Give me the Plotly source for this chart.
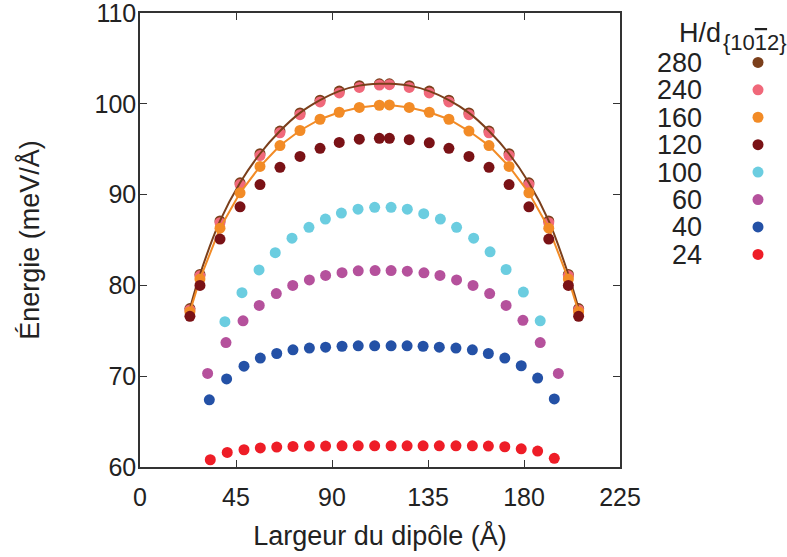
import plotly.graph_objects as go

# ---------------- data ----------------
series_names = ["280", "240", "160", "120", "100", "60", "40", "24"]

x_wide = [23.4, 28.1, 37.5, 46.9, 56.25, 65.6, 75.0, 84.4, 93.4, 102.8, 112.2,
          116.9, 126.2, 135.6, 144.8, 154.2, 163.6, 173.0, 182.3, 191.6, 200.8, 205.6]
y_280 = [77.45, 81.2, 87.1, 91.3, 94.5, 97.0, 99.0, 100.4, 101.4, 102.0, 102.2,
         102.2, 102.0, 101.4, 100.4, 99.0, 97.0, 94.5, 91.3, 87.1, 81.2, 77.45]
y_240 = [77.3, 81.05, 86.9, 91.1, 94.3, 96.8, 98.8, 100.2, 101.2, 101.8, 102.07,
         102.1, 101.8, 101.2, 100.2, 98.8, 96.8, 94.3, 91.1, 86.9, 81.05, 77.3]
y_160 = [77.1, 80.7, 86.3, 90.2, 93.1, 95.4, 97.06, 98.3, 99.07, 99.6, 99.84,
         99.88, 99.6, 99.07, 98.3, 97.0, 95.4, 93.1, 90.2, 86.3, 80.7, 77.1]
y_120 = [76.6, 80.0, 85.1, 88.65, 91.1, 93.0, 94.2, 95.1, 95.75, 96.1, 96.2,
         96.2, 96.05, 95.7, 95.1, 94.2, 93.0, 91.1, 88.65, 85.1, 80.0, 76.6]

x_100 = [39.8, 47.8, 55.8, 63.4, 71.25, 79.2, 86.9, 94.4, 102.2, 110.0,
         117.7, 125.3, 133.0, 140.8, 148.4, 156.4, 164.1, 171.6, 179.7, 187.6]
y_100 = [76.0, 79.2, 81.7, 83.6, 85.2, 86.4, 87.3, 87.96, 88.4, 88.6,
         88.6, 88.4, 87.9, 87.3, 86.4, 85.2, 83.7, 81.75, 79.26, 76.1]

x_60 = [31.7, 40.3, 48.3, 55.9, 63.9, 71.6, 79.4, 87.0, 94.7, 102.3, 110.2,
        117.7, 125.3, 133.1, 140.6, 148.4, 156.1, 163.9, 171.6, 179.5, 187.6, 196.1]
y_60 = [70.3, 73.7, 76.1, 77.8, 79.1, 80.0, 80.6, 81.1, 81.4, 81.6, 81.63,
        81.63, 81.57, 81.38, 81.1, 80.6, 80.0, 79.1, 77.8, 76.15, 73.7, 70.3]

x_40 = [32.5, 40.6, 48.75, 56.4, 64.1, 71.7, 79.4, 87.0, 94.7, 102.3, 110.0,
        117.7, 125.2, 132.7, 140.3, 148.1, 155.8, 163.3, 171.0, 178.7, 186.4, 194.2]
y_40 = [67.4, 69.7, 71.1, 72.0, 72.5, 72.9, 73.1, 73.2, 73.3, 73.35, 73.35,
        73.35, 73.35, 73.3, 73.2, 73.1, 72.9, 72.5, 72.0, 71.15, 69.8, 67.5]

x_24 = [32.95, 40.9, 48.75, 56.4, 64.1, 71.7, 79.4, 87.0, 94.7, 102.3, 110.0,
        117.7, 125.2, 132.7, 140.3, 148.1, 155.8, 163.3, 171.0, 178.7, 186.4, 194.2]
y_24 = [60.8, 61.6, 61.9, 62.1, 62.2, 62.27, 62.3, 62.3, 62.33, 62.33, 62.33,
        62.33, 62.33, 62.33, 62.33, 62.33, 62.33, 62.3, 62.23, 62.0, 61.75, 60.95]

x_ticks = [0, 45, 90, 135, 180, 225]
y_ticks = [60, 70, 80, 90, 100, 110]

# ---------------- style ----------------
colors = {
    "280": "#7b3f1b", "240": "#f0687a", "160": "#f28b26", "120": "#7a1216",
    "100": "#6bcde0", "60": "#b5519c", "40": "#2451a6", "24": "#ee1d27",
}
FONT = "Liberation Sans, Arial, Helvetica, sans-serif"
TXT = "#222222"
AX = "#333333"
MS = 11

fig = go.Figure()


def pts(x, y, name):
    fig.add_trace(go.Scatter(x=x, y=y, mode="markers", showlegend=False,
                             marker=dict(size=MS, color=colors[name]),
                             hoverinfo="x+y", name=name))


pts(x_wide, y_280, "280")
pts(x_wide, y_240, "240")
fig.add_trace(go.Scatter(x=x_wide, y=y_280, mode="lines", line_shape="spline",
                         line=dict(color=colors["280"], width=2), showlegend=False))
fig.add_trace(go.Scatter(x=x_wide, y=y_160, mode="lines+markers", showlegend=False,
                         line=dict(color=colors["160"], width=2),
                         marker=dict(size=MS, color=colors["160"])))
pts(x_wide, y_120, "120")
pts(x_100, y_100, "100")
pts(x_60, y_60, "60")
pts(x_40, y_40, "40")
pts(x_24, y_24, "24")

# custom legend (labels on the left, markers on the right) on an auxiliary axis
MAIN_W = 480.0
PAPER_W = 787 - 140
main_end = MAIN_W / PAPER_W
LEG_AXIS_PX = 703
LEG_W = 787 - LEG_AXIS_PX
leg_start = (LEG_AXIS_PX - 140) / PAPER_W
leg_marker_x = (758 - LEG_AXIS_PX) / LEG_W
title_split_x = (722 - LEG_AXIS_PX) / LEG_W

fig.add_trace(go.Scatter(x=[leg_marker_x] * len(series_names), y=series_names,
                         mode="markers", xaxis="x2", yaxis="y2", showlegend=False,
                         marker=dict(size=MS, color=[colors[n] for n in series_names]),
                         hoverinfo="skip"))

fig.update_layout(
    width=787, height=557,
    margin=dict(l=140, r=0, t=13, b=90, autoexpand=False),
    paper_bgcolor="white", plot_bgcolor="white",
    font=dict(family=FONT, color=TXT, size=25),
    showlegend=False,
    xaxis=dict(domain=[0, main_end], range=[0, 225], tickmode="array",
               tickvals=x_ticks, automargin=False, ticklabeloverflow="allow",
               ticklabelstandoff=7,
               showgrid=False, zeroline=False, showline=True, linecolor=AX,
               linewidth=1.5, mirror="ticks", ticks="inside", ticklen=7,
               tickcolor=AX, tickwidth=1.2, tickfont=dict(size=25),
               title=dict(text="Largeur du dipôle (Å)", font=dict(size=27),
                          standoff=16)),
    yaxis=dict(range=[60, 110], tickmode="array", tickvals=y_ticks,
               automargin=False, ticklabeloverflow="allow",
               ticklabelstandoff=-3,
               showgrid=False, zeroline=False, showline=True, linecolor=AX,
               linewidth=1.5, mirror="ticks", ticks="inside", ticklen=7,
               tickcolor=AX, tickwidth=1.2, tickfont=dict(size=25),
               title=dict(text="Énergie (meV/Å)", font=dict(size=27),
                          standoff=47)),
    xaxis2=dict(domain=[leg_start, 1], range=[0, 1], anchor="y2",
                visible=False, fixedrange=True, automargin=False),
    yaxis2=dict(anchor="x2", type="category", categoryorder="array",
                categoryarray=series_names, range=[14.75, -1.80],
                tickmode="array", tickvals=series_names, ticktext=series_names,
                automargin=False, ticklabeloverflow="allow",
                showgrid=False, zeroline=False, showline=False, ticks="",
                tickfont=dict(size=27, color=TXT), fixedrange=True),
    annotations=[
        dict(xref="x2", yref="y2", x=title_split_x, y=-1.07, showarrow=False,
             text="H/d", font=dict(size=27, color=TXT),
             xanchor="right", yanchor="middle", xshift=1),
        dict(xref="x2", yref="y2", x=title_split_x, y=-0.72, showarrow=False,
             text='{10<span style="text-decoration:overline">1</span>2}',
             font=dict(size=22, color=TXT),
             xanchor="left", yanchor="middle", xshift=-1),
    ],
)

fig.write_html("out.html",
               config={"displayModeBar": False},
               post_script="document.body.style.margin='0';document.body.style.padding='0';")
